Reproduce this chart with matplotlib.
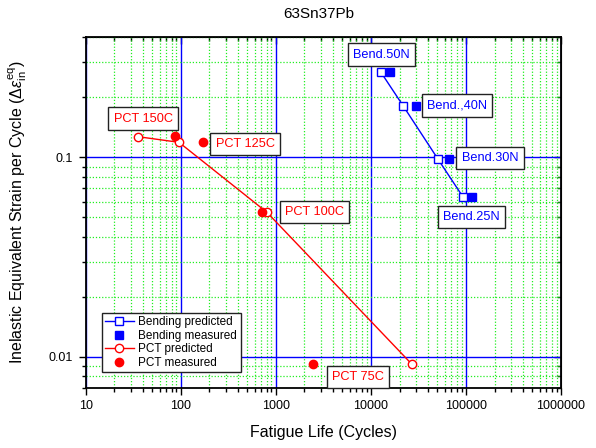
import matplotlib
matplotlib.use("Agg")
import matplotlib.pyplot as plt
from matplotlib.ticker import LogLocator, FixedLocator, NullFormatter, FuncFormatter

plt.rcParams['font.family'] = ['Liberation Sans', 'DejaVu Sans']
plt.rcParams['mathtext.fontset'] = 'custom'
plt.rcParams['mathtext.rm'] = 'Liberation Sans'
plt.rcParams['mathtext.it'] = 'Liberation Sans:italic'

# bending tests
bend_pred_life = [12700, 21900, 50800, 93700]
bend_meas_life = [15900, 30100, 66800, 116700]
bend_strain = [0.268, 0.181, 0.098, 0.063]
bend_labels = ["Bend.50N", "Bend.,40N", "Bend.30N", "Bend.25N"]
bend_label_x = [12940, 80500, 179000, 114000]
bend_label_y = [0.328, 0.182, 0.0992, 0.0502]

# power cycling tests
pct_pred_life = [35.5, 95.7, 807, 26850]
pct_meas_life = [87.7, 172.6, 710, 2445]
pct_pred_strain = [0.127, 0.119, 0.053, 0.0092]
pct_meas_strain = [0.128, 0.119, 0.053, 0.0092]
pct_labels = ["PCT 150C", "PCT 125C", "PCT 100C", "PCT 75C"]
pct_label_x = [40.1, 474, 2550, 7330]
pct_label_y = [0.1565, 0.1166, 0.0532, 0.00791]

fig = plt.figure(figsize=(5.96, 4.48), dpi=100)
ax = fig.add_axes([0.1438, 0.1346, 0.7975, 0.7821])
ax.set_xscale('log')
ax.set_yscale('log')
ax.set_xlim(10, 1e6)
ax.set_ylim(0.007, 0.4)

ax.plot(bend_pred_life, bend_strain, color='blue', lw=1, marker='s', ms=5.5,
        mfc='white', mec='blue', mew=1, label='Bending predicted')
ax.plot(bend_meas_life, bend_strain, ls='none', marker='s', ms=5.5,
        color='blue', label='Bending measured')
ax.plot(pct_pred_life, pct_pred_strain, color='red', lw=1, marker='o', ms=6,
        mfc='white', mec='red', mew=1, label='PCT predicted')
ax.plot(pct_meas_life, pct_meas_strain, ls='none', marker='o', ms=6,
        color='red', label='PCT measured')

box = dict(boxstyle='square,pad=0.42', fc='white', ec='#222222', lw=1)
for x, y, s in zip(bend_label_x, bend_label_y, bend_labels):
    ax.text(x, y, s, color='blue', fontsize=9.2, ha='center', va='center', bbox=box, zorder=5)
for x, y, s in zip(pct_label_x, pct_label_y, pct_labels):
    ax.text(x, y, s, color='red', fontsize=9.2, ha='center', va='center', bbox=box, zorder=5)

# grid: blue decades, green dotted minors
ax.xaxis.set_major_locator(LogLocator(base=10, numticks=10))
ax.xaxis.set_minor_locator(LogLocator(base=10, subs=range(2, 10), numticks=10))
ax.yaxis.set_major_locator(FixedLocator([0.01, 0.1]))
ax.yaxis.set_minor_locator(LogLocator(base=10, subs=range(2, 10), numticks=10))
ax.xaxis.set_major_formatter(FuncFormatter(lambda v, p: f"{v:g}" if v < 1e5 else f"{int(v)}"))
ax.yaxis.set_major_formatter(FuncFormatter(lambda v, p: f"{v:g}"))
ax.xaxis.set_minor_formatter(NullFormatter())
ax.yaxis.set_minor_formatter(NullFormatter())
ax.grid(which='major', color='blue', lw=1)
ax.grid(which='minor', color='#22ee22', lw=0.9, ls=(0, (1, 1.5)))
ax.set_axisbelow(True)

ax.tick_params(which='both', direction='out', width=1, labelsize=9, colors='black')
ax.tick_params(which='major', length=5, pad=4)
ax.tick_params(which='minor', length=3)
for sp in ax.spines.values():
    sp.set_linewidth(1.3)

# inward ticks on top and right
top = ax.secondary_xaxis('top')
top.xaxis.set_major_locator(LogLocator(base=10, numticks=10))
top.xaxis.set_minor_locator(LogLocator(base=10, subs=range(2, 10), numticks=10))
top.tick_params(which='both', direction='in', labeltop=False, width=1)
top.tick_params(which='major', length=5)
top.tick_params(which='minor', length=3)
right = ax.secondary_yaxis('right')
right.yaxis.set_major_locator(FixedLocator([0.01, 0.1]))
right.yaxis.set_minor_locator(LogLocator(base=10, subs=range(2, 10), numticks=10))
right.tick_params(which='both', direction='in', labelright=False, width=1)
right.tick_params(which='major', length=5)
right.tick_params(which='minor', length=3)

ax.set_xlabel('Fatigue Life (Cycles)', fontsize=11.5, labelpad=9)
ax.set_ylabel(r'Inelastic Equivalent Strain per Cycle ($\Delta\varepsilon^{\mathrm{eq}}_{\mathrm{in}}$)',
              fontsize=11.5, labelpad=14)
fig.text(0.534, 0.96, '63Sn37Pb', fontsize=11, ha='center', va='baseline')

leg = ax.legend(loc='lower left', bbox_to_anchor=(0.0337, 0.044), borderaxespad=0,
                fontsize=8.5, fancybox=False, edgecolor='#222222', framealpha=1,
                labelspacing=0.12, handlelength=2.4, handletextpad=0.4, borderpad=0.3)
leg.get_frame().set_linewidth(1)

fig.savefig('out.png', dpi=100)
